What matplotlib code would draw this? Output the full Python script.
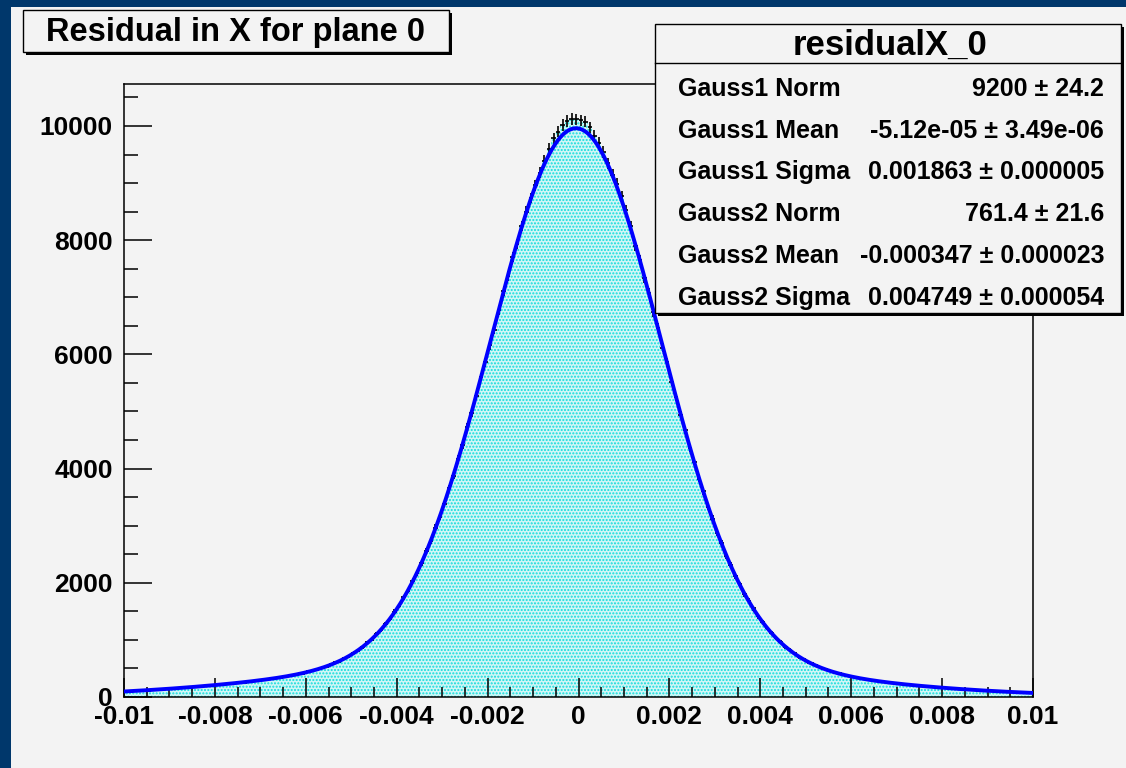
import numpy as np
import matplotlib
matplotlib.use("Agg")
import matplotlib.pyplot as plt
from matplotlib.patches import Rectangle
from matplotlib.lines import Line2D
from matplotlib.ticker import MultipleLocator, FuncFormatter

plt.rcParams["font.family"] = ["Liberation Sans", "DejaVu Sans"]
plt.rcParams["font.weight"] = "bold"
plt.rcParams["hatch.color"] = "#10dcdc"
plt.rcParams["hatch.linewidth"] = 1.0

# histogram: 200 bins from -0.01 to 0.01 (bin width 1e-4)
X_LO, X_HI, N_BINS = -0.01, 0.01, 200
counts = [
    # -0.0100 .. -0.0060
    104, 96, 110, 105, 121, 113, 131, 124, 141, 136,
    145, 158, 151, 168, 163, 181, 177, 186, 202, 197,
    206, 224, 219, 231, 240, 257, 252, 263, 284, 281,
    292, 304, 327, 325, 338, 352, 379, 380, 409, 414,
    # -0.0060 .. -0.0040
    447, 452, 478, 515, 529, 572, 605, 627, 681, 712,
    775, 812, 871, 955, 1006, 1104, 1169, 1282, 1360, 1497,
    # -0.0040 .. -0.0020
    1590, 1745, 1862, 2040, 2171, 2349, 2560, 2725, 2968, 3150,
    3380, 3655, 3872, 4170, 4405, 4730, 4975, 5270, 5605, 5860,
    # -0.0020 .. 0
    6160, 6430, 6770, 7110, 7370, 7700, 7935, 8250, 8500, 8740,
    8960, 9180, 9395, 9600, 9785, 9900, 10015, 10090, 10120, 10115,
    # 0 .. 0.0020
    10100, 10075, 9975, 9830, 9700, 9545, 9350, 9150, 8990, 8770,
    8520, 8240, 7905, 7660, 7330, 7075, 6735, 6470, 6120, 5860,
    # 0.0020 .. 0.0040
    5520, 5255, 4930, 4675, 4360, 4120, 3825, 3600, 3330, 3125,
    2875, 2695, 2470, 2310, 2115, 1975, 1800, 1685, 1550, 1412,
    # 0.0040 .. 0.0060
    1320, 1200, 1127, 1025, 960, 876, 826, 768, 700, 665,
    610, 583, 548, 503, 486, 457, 421, 413, 380, 374,
    # 0.0060 .. 0.0100
    344, 341, 314, 312, 289, 288, 266, 267, 246, 248,
    228, 230, 211, 213, 196, 198, 181, 184, 168, 171,
    156, 158, 144, 146, 133, 136, 123, 125, 114, 116,
    104, 107, 95, 98, 87, 90, 79, 82, 72, 70,
]

# double gaussian fit result (from the stats box)
gauss1 = (9200.0, -5.12e-05, 0.001863)
gauss2 = (761.4, -0.000347, 0.004749)

stat_title = "residualX_0"
stat_labels = ["Gauss1 Norm", "Gauss1 Mean", "Gauss1 Sigma",
               "Gauss2 Norm", "Gauss2 Mean", "Gauss2 Sigma"]
stat_values = ["9200 \u00b1 24.2", "-5.12e-05 \u00b1 3.49e-06",
               "0.001863 \u00b1 0.000005", "761.4 \u00b1 21.6",
               "-0.000347 \u00b1 0.000023", "0.004749 \u00b1 0.000054"]
hist_title = "Residual in X for plane 0"

W, H = 1126, 768
BLUE = "#00376b"
GRAY = "#f3f3f3"


def px(x, y):
    """pixel (from top-left) -> figure fraction"""
    return x / W, 1 - y / H


def gauss(x, p):
    n, m, s = p
    return n * np.exp(-0.5 * ((x - m) / s) ** 2)


fig = plt.figure(figsize=(W / 100, H / 100), dpi=100, facecolor=BLUE)
fig.patches.append(Rectangle(px(11, H), 1, 1 - 7 / H, transform=fig.transFigure,
                             facecolor=GRAY, edgecolor="none", zorder=-5))

l, b = px(124, 697)
ax = fig.add_axes([l, b, (1033 - 124) / W, (697 - 84) / H])
ax.set_facecolor(GRAY)

edges = np.linspace(X_LO, X_HI, N_BINS + 1)
centers = 0.5 * (edges[:-1] + edges[1:])
vals = np.array(counts, dtype=float)

ax.stairs(vals, edges, fill=True, facecolor="#d2f6f6", edgecolor="none", zorder=1)
ax.stairs(vals, edges, fill=True, facecolor="none", hatch=".....",
          edgecolor="#10dcdc", linewidth=0, zorder=1.5)
ax.errorbar(centers, vals, xerr=0.5 * (edges[1] - edges[0]), yerr=np.sqrt(vals),
            fmt="none", ecolor="black", elinewidth=1.2, capsize=0, zorder=3)

xs = np.linspace(X_LO, X_HI, 1001)
ax.plot(xs, gauss(xs, gauss1) + gauss(xs, gauss2), color="#0000ff", lw=2.8, zorder=4)

ax.set_xlim(X_LO, X_HI)
ax.set_ylim(0, 10735)
ax.xaxis.set_major_locator(MultipleLocator(0.002))
ax.xaxis.set_minor_locator(MultipleLocator(0.0005))
ax.yaxis.set_major_locator(MultipleLocator(2000))
ax.yaxis.set_minor_locator(MultipleLocator(500))
ax.xaxis.set_major_formatter(FuncFormatter(lambda v, p: "%g" % (round(v, 4) + 0.0)))
ax.yaxis.set_major_formatter(FuncFormatter(lambda v, p: "%d" % round(v)))
ax.tick_params(axis="x", which="major", direction="in", length=13.5, width=1.1,
               labelsize=19, pad=6)
ax.tick_params(axis="x", which="minor", direction="in", length=7, width=1.1)
ax.tick_params(axis="y", which="major", direction="in", length=20, width=1.1,
               labelsize=19, pad=8)
ax.tick_params(axis="y", which="minor", direction="in", length=10, width=1.1)
for t in ax.get_xticklabels() + ax.get_yticklabels():
    t.set_fontweight("bold")
for s in ax.spines.values():
    s.set_linewidth(1.1)


def box(x0, y0, x1, y1):
    # ROOT style pave with shadow on right/bottom
    fig.patches.append(Rectangle(px(x0 + 3, y1 + 3), (x1 - x0) / W, (y1 - y0) / H,
                                 transform=fig.transFigure, facecolor="black",
                                 edgecolor="none", zorder=5))
    fig.patches.append(Rectangle(px(x0, y1), (x1 - x0) / W, (y1 - y0) / H,
                                 transform=fig.transFigure, facecolor=GRAY,
                                 edgecolor="black", lw=1.0, zorder=6))


box(23, 10, 449, 52)
fig.text(*px(236, 32), hist_title, ha="center", va="center", fontsize=23.5,
         fontweight="bold", zorder=7)

box(655, 24, 1121, 313)
fig.lines.append(Line2D([655 / W, 1121 / W], [1 - 63 / H, 1 - 63 / H],
                        transform=fig.transFigure, color="black", lw=1.0, zorder=7))
fig.text(*px(890, 45), stat_title, ha="center", va="center", fontsize=25,
         fontweight="bold", zorder=7)
for i, (lab, val) in enumerate(zip(stat_labels, stat_values)):
    y = 89 + i * 41.7
    fig.text(*px(678, y), lab, ha="left", va="center", fontsize=18,
             fontweight="bold", zorder=7)
    fig.text(*px(1104, y), val, ha="right", va="center", fontsize=18,
             fontweight="bold", zorder=7)

fig.savefig("out.png", dpi=100, facecolor=BLUE)
